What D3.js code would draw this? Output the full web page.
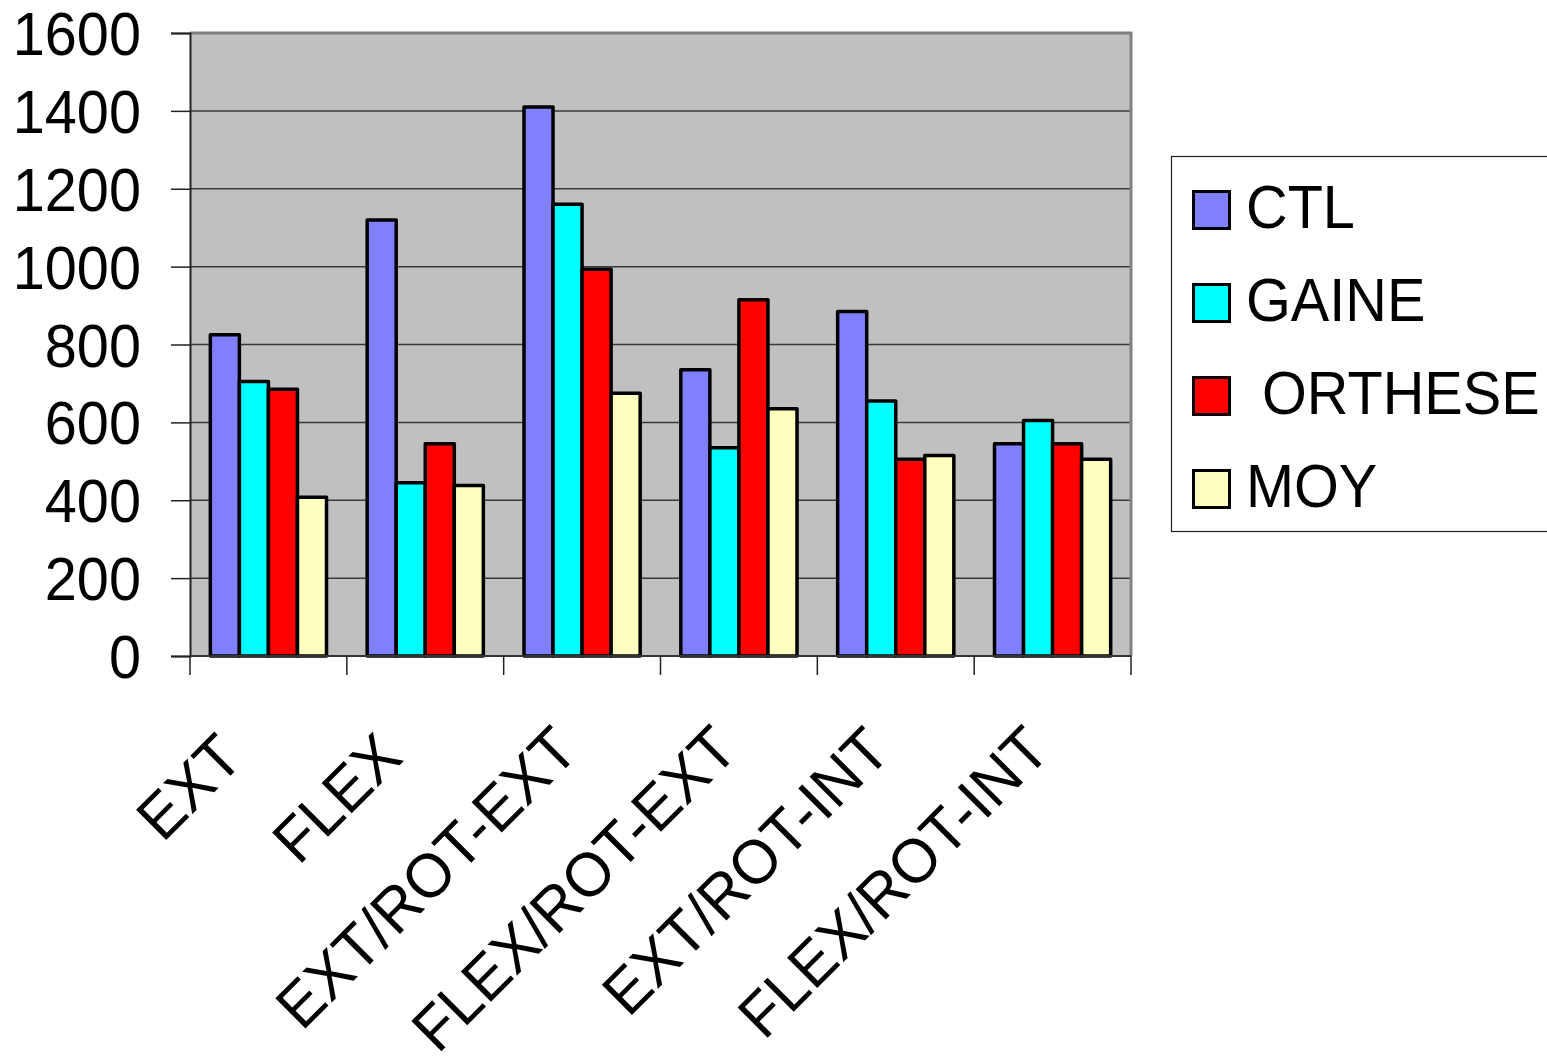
<!DOCTYPE html>
<html>
<head>
<meta charset="utf-8">
<script src="https://cdn.jsdelivr.net/npm/d3@7/dist/d3.min.js"></script>
<style>
  html, body { margin: 0; padding: 0; background: #fff; }
  svg { display: block; }
  text { font-family: "Liberation Sans", Arial, sans-serif; fill: #000; }
</style>
</head>
<body>
<svg id="chart" width="1547" height="1062"></svg>
<script>
const categories = ["EXT", "FLEX", "EXT/ROT-EXT", "FLEX/ROT-EXT", "EXT/ROT-INT", "FLEX/ROT-INT"];
const seriesNames = ["CTL", "GAINE", "ORTHESE", "MOY"];
const legendLabels = ["CTL", "GAINE", " ORTHESE", "MOY"];
const seriesColors = ["#8080FF", "#00FFFF", "#FF0000", "#FFFFC0"];
const CTL = [825, 1120, 1410, 735, 885, 545];
const GAINE = [705, 445, 1160, 535, 655, 605];
const ORTHESE = [685, 545, 993, 915, 505, 545];
const MOY = [408, 438, 675, 635, 515, 505];
const yTicks = [0, 200, 400, 600, 800, 1000, 1200, 1400, 1600];

const seriesValues = [CTL, GAINE, ORTHESE, MOY];

const svg = d3.select("#chart");
const L = 190, R = 1131, T = 33, B = 656;
const FS = 62, SX = 0.93, SXX = 0.97;

const x0 = d3.scaleBand().domain(categories).range([L, R]).paddingInner(0).paddingOuter(0);
const x1 = d3.scaleBand().domain(seriesNames).range([0, x0.bandwidth()]).paddingInner(0).paddingOuter(0.7);
const y = d3.scaleLinear().domain([0, 1600]).range([B, T]);

// plot background
svg.append("rect").attr("x", L).attr("y", T).attr("width", R - L).attr("height", B - T).attr("fill", "#C0C0C0");

// gridlines
svg.append("g").selectAll("line").data(yTicks.filter(d => d > 0 && d < 1600)).join("line")
  .attr("x1", L).attr("x2", R).attr("y1", d => y(d)).attr("y2", d => y(d))
  .attr("stroke", "#3a3a3a").attr("stroke-width", 1.5);

// top and right border (gray)
svg.append("path")
  .attr("d", `M${L},${T} H${R} V${B}`)
  .attr("fill", "none").attr("stroke", "#808080").attr("stroke-width", 3);

// bars
const groups = svg.append("g").selectAll("g").data(categories).join("g")
  .attr("transform", d => `translate(${x0(d)},0)`);
groups.selectAll("rect").data((c, i) => seriesNames.map((s, j) => ({ s, j, v: seriesValues[j][i] }))).join("rect")
  .attr("x", d => x1(d.s)).attr("width", x1.bandwidth())
  .attr("y", d => y(d.v)).attr("height", d => y(0) - y(d.v))
  .attr("fill", d => seriesColors[d.j]).attr("stroke", "#000").attr("stroke-width", 3.5)
  .attr("stroke-linejoin", "round");

// y axis
const yAxis = d3.axisLeft(y).tickValues(yTicks).tickSize(19).tickFormat("");
const gy = svg.append("g").attr("transform", `translate(${L},0)`).call(yAxis);
gy.select(".domain").attr("stroke", "#222").attr("stroke-width", 2);
gy.selectAll(".tick line").attr("stroke", "#222").attr("stroke-width", 1.5);

svg.append("g").selectAll("text").data(yTicks).join("text")
  .attr("transform", d => `translate(141,${y(d) + 22}) scale(${SX},1)`)
  .attr("text-anchor", "end").attr("font-size", FS).text(d => d);

// x axis
const boundaries = categories.map(c => x0(c)).concat([R]);
svg.append("line").attr("x1", L).attr("x2", R).attr("y1", B).attr("y2", B)
  .attr("stroke", "#333").attr("stroke-width", 2);
svg.append("g").selectAll("line").data(boundaries).join("line")
  .attr("x1", d => d).attr("x2", d => d).attr("y1", B).attr("y2", B + 19)
  .attr("stroke", "#222").attr("stroke-width", 1.5);

// x labels rotated
const xl = svg.append("g").selectAll("text").data(categories).join("text")
  .attr("text-anchor", "end").attr("font-size", FS).text(d => d);
xl.each(function (d) {
  const len = this.getComputedTextLength() * SXX;
  const cx = x0(d) + x0.bandwidth() / 2;
  const ex = cx - 32 + 0.078 * len;
  const ey = 764 - 0.027 * len;
  d3.select(this).attr("transform", `translate(${ex},${ey}) rotate(-45) scale(${SXX},1)`);
});

// legend
const lg = svg.append("g");
lg.append("rect").attr("x", 1171.5).attr("y", 156.5).attr("width", 400).attr("height", 375)
  .attr("fill", "#fff").attr("stroke", "#222").attr("stroke-width", 1.2);
const items = lg.selectAll("g.item").data(seriesNames).join("g").attr("class", "item")
  .attr("transform", (d, i) => `translate(0,${i * 93})`);
items.append("rect").attr("x", 1193.5).attr("y", 191.5).attr("width", 36).attr("height", 37)
  .attr("fill", (d, i) => seriesColors[i]).attr("stroke", "#000").attr("stroke-width", 3);
items.append("text").attr("transform", `translate(1246,228) scale(${SX},1)`)
  .attr("font-size", FS).attr("xml:space", "preserve").style("white-space", "pre")
  .text((d, i) => legendLabels[i]);
</script>
</body>
</html>
